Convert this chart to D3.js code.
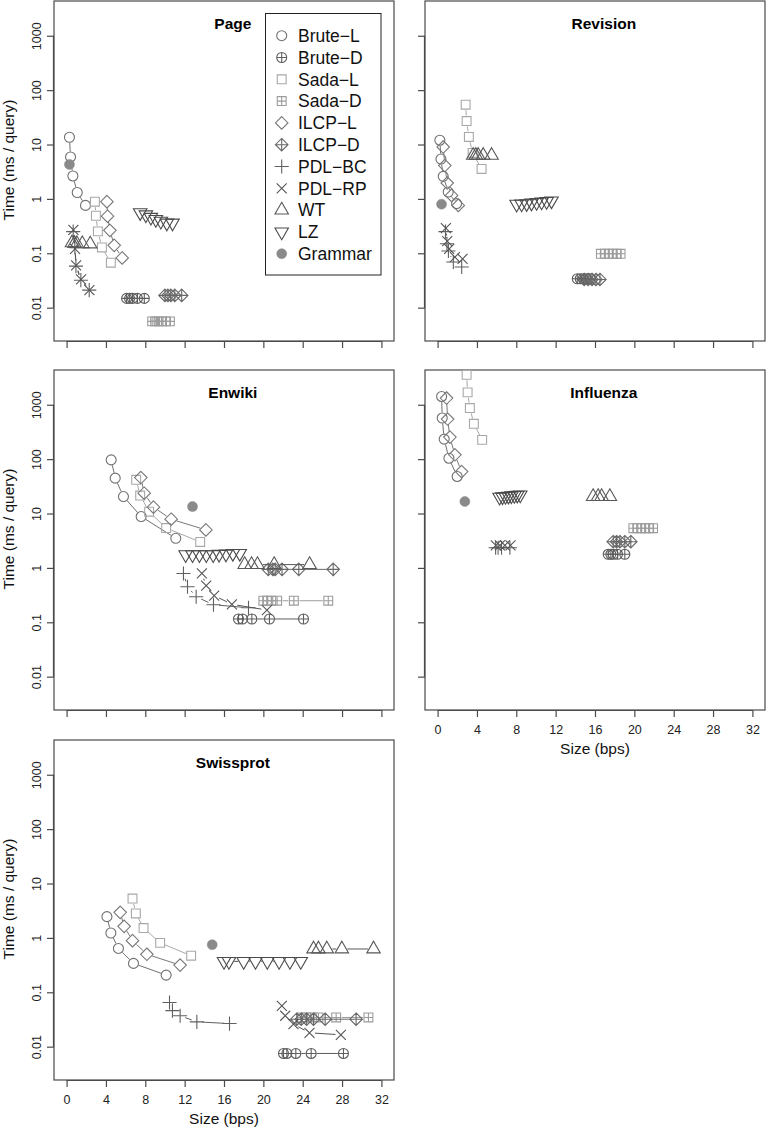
<!DOCTYPE html>
<html><head><meta charset="utf-8">
<script src="https://cdn.jsdelivr.net/npm/d3@7"></script>
<style>
body{margin:0;background:#fff}
svg{display:block}
text{font-family:"Liberation Sans",Arial,Helvetica,sans-serif}
</style>
</head><body>
<svg id="chart" width="767" height="1131"></svg>
<script>
// ---------- data ----------
const seriesNames = ["Brute\u2212L","Brute\u2212D","Sada\u2212L","Sada\u2212D","ILCP\u2212L","ILCP\u2212D","PDL\u2212BC","PDL\u2212RP","WT","LZ","Grammar"];
const seriesSymbols = ["circle","circlePlus","square","squarePlus","diamond","diamondPlus","plus","cross","triUp","triDown","dot"];
const seriesColors = ["#707070","#5e5e5e","#a8a8a8","#9c9c9c","#787878","#686868","#606060","#555555","#585858","#4a4a4a","#8a8a8a"];
const datasetNames = ["Page","Revision","Enwiki","Influenza","Swissprot"];
const xTicks = [0,4,8,12,16,20,24,28,32];
const yTicks = [0.01,0.1,1,10,100,1000];
const yTickLabels = ["0.01","0.1","1","10","100","1000"];

// x = size (bps), y = time (ms/query); one inner list per series, in seriesNames order
const pageX = [
  [0.29,0.40,0.64,1.08,1.92],
  [6.1,6.4,6.7,7.2,7.9],
  [2.88,2.98,3.18,3.59,4.50],
  [8.7,9.0,9.35,9.7,10.1,10.5],
  [4.10,4.16,4.40,4.84,5.65],
  [10.0,10.3,10.6,11.0,11.7],
  [0.67,0.84,0.95,1.45,2.30],
  [0.69,0.86,0.97,1.47,2.32],
  [0.55,0.8,1.05,1.6,2.4],
  [7.48,8.06,8.57,9.07,9.58,10.19,10.77],
  [0.29]
];
const pageY = [
  [13.6,5.9,2.64,1.31,0.76],
  [0.0148,0.0148,0.0148,0.0148,0.0148],
  [0.89,0.49,0.253,0.128,0.067],
  [0.0056,0.0056,0.0056,0.0056,0.0056,0.0056],
  [0.89,0.48,0.264,0.14,0.082],
  [0.0168,0.0168,0.0168,0.0168,0.0168],
  [0.25,0.13,0.058,0.032,0.021],
  [0.27,0.12,0.060,0.033,0.021],
  [0.155,0.152,0.15,0.15,0.148],
  [0.56,0.51,0.46,0.42,0.39,0.36,0.36],
  [4.3]
];
const revisionX = [
  [0.23,0.34,0.57,1.08,1.93],
  [14.2,14.5,14.8,15.1,15.5],
  [2.85,2.95,3.18,3.56,4.47],
  [16.6,17.0,17.4,17.8,18.2,18.6],
  [0.57,0.74,0.98,1.42,2.10],
  [14.9,15.3,15.7,16.1,16.5],
  [0.8,0.95,1.1,1.6,2.45],
  [0.84,0.98,1.18,1.76,2.54],
  [3.62,3.89,4.13,4.64,5.49],
  [8.03,8.54,9.05,9.55,10.06,10.57,11.08,11.58],
  [0.4]
];
const revisionY = [
  [12,5.4,2.6,1.34,0.82],
  [0.034,0.034,0.034,0.034,0.034],
  [54,27,13.8,7.0,3.56],
  [0.098,0.098,0.098,0.098,0.098,0.098],
  [9.0,4.1,1.96,1.16,0.76],
  [0.033,0.033,0.033,0.033,0.033],
  [0.25,0.15,0.11,0.069,0.056],
  [0.29,0.168,0.12,0.085,0.079],
  [6.3,6.3,6.3,6.3,6.3],
  [0.80,0.81,0.82,0.84,0.86,0.88,0.90,0.92],
  [0.8]
];
const enwikiX = [
  [4.53,4.94,5.78,7.58,11.1],
  [17.47,17.88,18.83,20.62,24.08],
  [7.07,7.48,8.39,10.12,13.58],
  [20.0,20.4,20.8,21.4,23.1,26.6],
  [7.55,7.89,8.83,10.63,14.16],
  [20.5,20.97,21.2,21.9,23.6,27.1],
  [11.88,12.29,13.17,14.93,18.49],
  [13.75,14.19,15.0,16.8,20.36],
  [18.1,18.8,19.4,21.1,24.7],
  [12.1,12.8,13.5,14.2,14.9,15.5,16.2,16.9,17.6],
  [12.8]
];
const enwikiY = [
  [97,44.7,20.5,8.8,3.5],
  [0.115,0.115,0.115,0.115,0.115],
  [41.6,21.4,10.8,5.4,3.0],
  [0.249,0.249,0.249,0.249,0.249,0.249],
  [45.8,23.6,13.1,7.85,5.0],
  [0.94,0.94,0.94,0.94,0.94,0.94],
  [0.79,0.45,0.295,0.21,0.185],
  [0.79,0.47,0.31,0.214,0.168],
  [1.15,1.15,1.15,1.15,1.15],
  [1.75,1.75,1.75,1.75,1.75,1.78,1.8,1.85,1.85],
  [13.4]
];
const influenzaX = [
  [0.41,0.47,0.67,1.15,1.99],
  [17.34,17.61,17.85,18.29,19.03],
  [2.95,3.05,3.28,3.69,4.53],
  [19.9,20.3,20.7,21.1,21.5,21.9],
  [0.91,1.02,1.25,1.76,2.44],
  [17.85,18.19,18.53,19.03,19.64],
  [5.9,6.15,6.5,7.35],
  [5.92,6.33,6.84,7.41],
  [15.81,16.32,16.67,17.51],
  [6.3,6.6,6.9,7.2,7.5,7.8,8.1,8.4],
  [2.77]
];
const influenzaY = [
  [1420,570,233,104,48],
  [1.78,1.78,1.78,1.78,1.78],
  [3560,1690,870,447,226],
  [5.36,5.36,5.36,5.36,5.36,5.36],
  [1330,546,254,120,59],
  [3.03,3.03,3.03,3.03,3.03],
  [2.35,2.35,2.35,2.35],
  [2.6,2.6,2.6,2.6],
  [20.5,20.5,20.5,20.5],
  [20,20.3,20.6,20.9,21.2,21.5,21.8,22],
  [16.6]
];
const swissprotX = [
  [4.1,4.5,5.27,6.8,10.12],
  [22.05,22.39,23.3,24.86,28.14],
  [6.70,7.04,7.82,9.51,12.66],
  [23.9,24.35,24.93,25.6,27.4,30.68],
  [5.45,5.85,6.70,8.16,11.54],
  [23.4,23.85,24.4,25.1,26.28,29.43],
  [10.46,10.76,11.54,13.24,16.56],
  [21.88,22.22,23.06,24.69,27.88],
  [25.1,25.6,26.45,27.98,31.2],
  [16.0,16.5,18.0,19.2,20.4,21.6,22.7,23.8],
  [14.8]
];
const swissprotY = [
  [2.46,1.23,0.64,0.34,0.207],
  [0.0075,0.0075,0.0075,0.0075,0.0075],
  [5.3,2.82,1.52,0.81,0.47],
  [0.0344,0.0344,0.0344,0.0344,0.0344,0.0344],
  [2.95,1.63,0.89,0.50,0.316],
  [0.032,0.032,0.032,0.032,0.032,0.032],
  [0.065,0.046,0.037,0.0286,0.0266],
  [0.056,0.037,0.026,0.018,0.0165],
  [0.625,0.625,0.625,0.625,0.625],
  [0.37,0.37,0.37,0.37,0.37,0.37,0.37,0.37],
  [0.75]
];
const datasetX = [pageX, revisionX, enwikiX, influenzaX, swissprotX];
const datasetY = [pageY, revisionY, enwikiY, influenzaY, swissprotY];

// ---------- layout ----------
const colLeft = [54, 425];
const rowTop = [1, 370, 740];
const PW = 340, PH = 340;
const panelPos = [[0,0],[1,0],[0,1],[1,1],[0,2]]; // [col,row]
const xDomain = [-1.28, 33.28];
const yDomain = [Math.pow(10,-2.613), Math.pow(10,3.639)];
const R = 5;
const SW = 1.1;
const FONT = '"Liberation Sans",Arial,Helvetica,sans-serif';

function symPath(type, r) {
  const circ = `M${r},0A${r},${r} 0 1,1 ${-r},0A${r},${r} 0 1,1 ${r},0Z`;
  const s = r * 0.886, d = r * 1.253, p = r * 1.414;
  const T0 = r * 1.555, xc = r * 1.347, yc = r * 0.7775;
  switch (type) {
    case "circle": case "dot": return circ;
    case "circlePlus": return circ + `M${-r},0H${r}M0,${-r}V${r}`;
    case "square": return `M${-s},${-s}H${s}V${s}H${-s}Z`;
    case "squarePlus": return `M${-s},${-s}H${s}V${s}H${-s}ZM${-s},0H${s}M0,${-s}V${s}`;
    case "diamond": return `M0,${-d}L${d},0L0,${d}L${-d},0Z`;
    case "diamondPlus": return `M0,${-d}L${d},0L0,${d}L${-d},0ZM${-d},0H${d}M0,${-d}V${d}`;
    case "plus": return `M${-p},0H${p}M0,${-p}V${p}`;
    case "cross": return `M${-r},${-r}L${r},${r}M${-r},${r}L${r},${-r}`;
    case "triUp": return `M0,${-T0}L${xc},${yc}L${-xc},${yc}Z`;
    case "triDown": return `M0,${T0}L${xc},${-yc}L${-xc},${-yc}Z`;
  }
}

const svg = d3.select("#chart");
svg.append("rect").attr("width",767).attr("height",1131).attr("fill","#fff");

datasetNames.forEach((name, di) => {
  const [col, row] = panelPos[di];
  const x0 = colLeft[col], y0 = rowTop[row];
  const xs = d3.scaleLinear().domain(xDomain).range([x0, x0 + PW]);
  const ys = d3.scaleLog().domain(yDomain).range([y0 + PH, y0]);
  const g = svg.append("g");

  // frame
  g.append("rect").attr("x", x0).attr("y", y0).attr("width", PW).attr("height", PH)
    .attr("fill","none").attr("stroke","#4a4a4a").attr("stroke-width",1.2);

  // x axis
  const showX = (di === 3 || di === 4);
  const xAxis = d3.axisBottom(xs).tickValues(xTicks).tickSize(7).tickSizeOuter(0)
    .tickFormat(showX ? d3.format("d") : () => "");
  const gx = g.append("g").attr("transform", `translate(0,${y0 + PH})`).call(xAxis);
  gx.select(".domain").attr("d", `M${xs(0)},0.5H${xs(32)}`).attr("stroke","#4a4a4a").attr("stroke-width",1.2);
  gx.selectAll(".tick line").attr("stroke","#4a4a4a").attr("stroke-width",1.2);
  gx.selectAll(".tick text").attr("font-family",FONT).attr("font-size",12.5).attr("fill","#222")
    .attr("dy",0).attr("y",24);

  // y axis
  const showY = (col === 0);
  const yAxis = d3.axisLeft(ys).tickValues(yTicks).tickSize(7).tickSizeOuter(0)
    .tickFormat((v,i) => showY ? yTickLabels[i] : "");
  const gy = g.append("g").attr("transform", `translate(${x0},0)`).call(yAxis);
  gy.select(".domain").attr("d", `M-0.5,${ys(1000)}V${ys(0.01)}`).attr("stroke","#4a4a4a").attr("stroke-width",1.2);
  gy.selectAll(".tick line").attr("stroke","#4a4a4a").attr("stroke-width",1.2);
  gy.selectAll(".tick text").attr("font-family",FONT).attr("font-size",12.5).attr("fill","#222")
    .attr("x",null).attr("dy",null).attr("text-anchor","middle")
    .attr("transform","translate(-13.5,0) rotate(-90)");

  if (showX) {
    g.append("text").attr("x", x0 + PW/2).attr("y", y0 + PH + 44).attr("text-anchor","middle")
      .attr("font-size",15.5).attr("fill","#111").text("Size (bps)");
  }
  if (showY) {
    g.append("text").attr("transform", `translate(13.5,${y0 + PH/2 - 11}) rotate(-90)`)
      .attr("text-anchor","middle").attr("font-size",15.5).attr("fill","#111").text("Time (ms / query)");
  }

  // title
  g.append("text").attr("x", xs(16.9)).attr("y", y0 + 28).attr("text-anchor","middle")
    .attr("font-size",15.5).attr("font-weight","bold").attr("fill","#000").text(name);

  // series
  const X = datasetX[di], Y = datasetY[di];
  const gap = 5.5;
  seriesNames.forEach((sn, si) => {
    const pts = X[si].map((v, k) => [xs(v), ys(Y[si][k])]);
    const col_ = seriesColors[si];
    // type "b" connecting lines with gaps
    let dstr = "";
    for (let k = 0; k < pts.length - 1; k++) {
      const [ax, ay] = pts[k], [bx, by] = pts[k+1];
      const L = Math.hypot(bx-ax, by-ay);
      if (L <= 2*gap) continue;
      const ux = (bx-ax)/L, uy = (by-ay)/L;
      dstr += `M${ax+ux*gap},${ay+uy*gap}L${bx-ux*gap},${by-uy*gap}`;
    }
    if (dstr) g.append("path").attr("d", dstr).attr("fill","none").attr("stroke",col_).attr("stroke-width",1);
    const type = seriesSymbols[si];
    g.selectAll(null).data(pts).enter().append("path")
      .attr("transform", p => `translate(${p[0]},${p[1]})`)
      .attr("d", symPath(type, R))
      .attr("fill", type === "dot" ? col_ : "none")
      .attr("stroke", col_).attr("stroke-width", type === "dot" ? 0.5 : SW);
  });

  // legend in first panel
  if (di === 0) {
    const lg = g.append("g");
    lg.append("rect").attr("x",265.5).attr("y",13.5).attr("width",115.5).attr("height",261.5)
      .attr("fill","#fff").attr("stroke","#222").attr("stroke-width",1);
    seriesNames.forEach((sn, si) => {
      const yy = 35.7 + si*21.8;
      const type = seriesSymbols[si];
      lg.append("path").attr("transform",`translate(281.7,${yy})`).attr("d", symPath(type, R))
        .attr("fill", type === "dot" ? seriesColors[si] : "none")
        .attr("stroke", seriesColors[si]).attr("stroke-width", type === "dot" ? 0.5 : SW);
      lg.append("text").attr("x",298).attr("y",yy).attr("dy","0.36em")
        .attr("font-size",17.5).attr("fill","#111").text(sn);
    });
  }
});
</script>
</body></html>
